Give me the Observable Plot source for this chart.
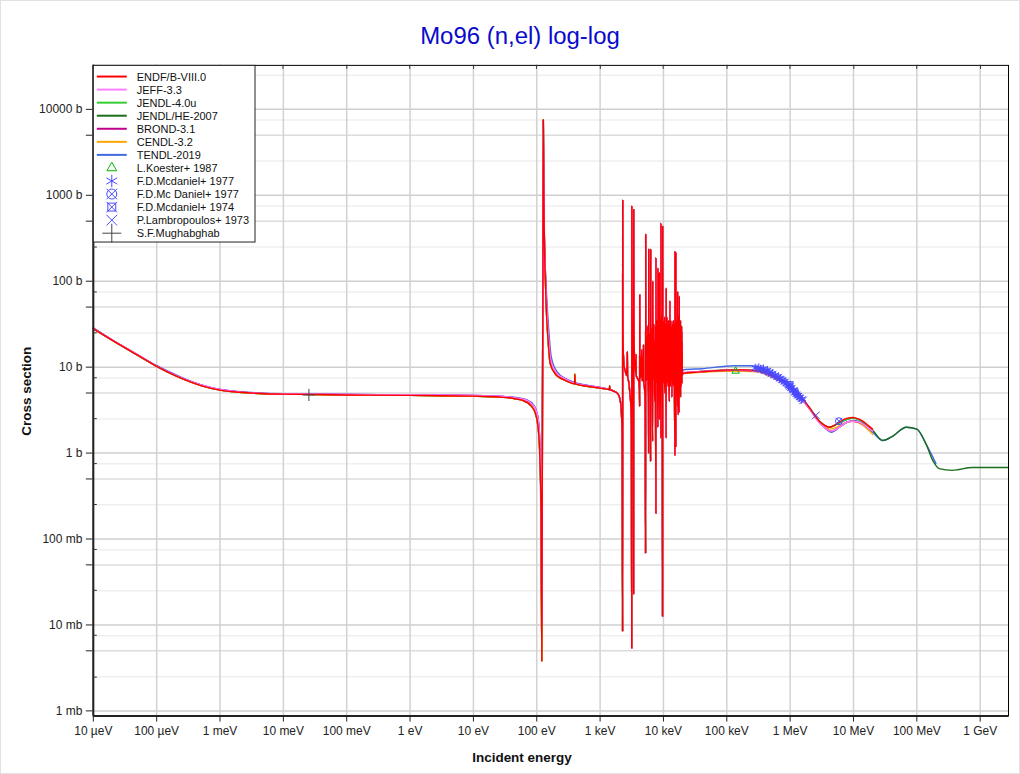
<!DOCTYPE html>
<html>
<head>
<meta charset="utf-8">
<script src="https://cdn.jsdelivr.net/npm/d3@7"></script>
<script src="https://cdn.jsdelivr.net/npm/@observablehq/plot@0.6"></script>
<style>
  html, body { margin: 0; padding: 0; background: #fff; }
  #wrap { position: relative; width: 1020px; height: 774px; box-sizing: border-box; border: 1px solid #e2e2e2; overflow: hidden; }
  #wrap svg { position: absolute; left: 0; top: 0; }
</style>
</head>
<body>
<div id="wrap"></div>
<script>
// ---------------- data (energy in eV, cross section in barns) ----------------
const xTickVals = [1e-5,1e-4,1e-3,1e-2,1e-1,1,10,100,1e3,1e4,1e5,1e6,1e7,1e8,1e9];
const xTickLabels = ["10 µeV","100 µeV","1 meV","10 meV","100 meV","1 eV","10 eV","100 eV","1 keV","10 keV","100 keV","1 MeV","10 MeV","100 MeV","1 GeV"];
const yTickVals = [1e4,5e3,1e3,500,100,50,10,5,1,0.5,0.1,0.05,0.01,0.005,0.001];
const yTickLabels = ["10000 b","5000 b","1000 b","500 b","100 b","50 b","10 b","5 b","1 b","500 mb","100 mb","50 mb","10 mb","5 mb","1 mb"];
const gridDecadeY = [0.001,0.01,0.1,1,10,100,1000,10000];
const gridFiveY = [0.005,0.05,0.5,5,50,500,5000];
const gridMinorY = [0.0025,0.0075,0.025,0.075,0.25,0.75,2.5,7.5,25,75,250,750,2500,7500,25000];

// ENDF/B-VIII.0 : low energy + first s-wave resonance
const endfLow = [[1e-5,28],[2e-5,20.5],[5e-5,13.8],[1e-4,10.2],[2e-4,7.9],[5e-4,6.1],[1e-3,5.4],[2e-3,5.1],[5e-3,4.9],[0.01,4.85],[0.1,4.75],[1,4.7],[10,4.6],[30,4.45],[60,4.1],[80,3.6],[95,2.9],[105,2.0],[112,0.9],[117,0.2],[120,0.0038],[123,3],[125,80],[127,7600],[129,1200],[132,300],[137,100],[141,50],[150,22],[163,11],[200,8.2],[260,7.2],[340,6.6],[395,6.4],[400,8.3],[405,6.4],[620,6.0],[1000,5.7],[1400,5.5],[1415,6.1],[1430,5.5]];
// ENDF/B-VIII.0 : resolved resonance region 1.5 - 20 keV
const endfRes = [[1500,5.4],[1700,5.2],[1900,4.9],[2050,4.3],[2150,3.3],[2230,1.6],[2265,0.0084],[2275,870],[2295,40],[2330,14],[2400,10],[2500,9],[2600,8],[2670,12],[2690,15],[2710,8],[2850,6.5],[2950,5],[3050,3.7],[3120,2.2],[3155,0.0054],[3165,740],[3190,60],[3250,16],[3330,3],[3375,0.023],[3385,680],[3420,40],[3500,12],[3650,8.5],[3700,14],[3720,8],[3850,7.5],[4050,7],[4180,5.5],[4210,3.5],[4220,69],[4250,9],[4350,8],[4370,13],[4400,7.5],[4550,16],[4580,7],[4700,7],[4850,18],[4880,6.5],[5000,6],[5150,3],[5225,0.068],[5240,350],[5270,20],[5350,10],[5420,20],[5450,7],[5500,9],[5560,30],[5600,8],[5680,18],[5700,6.5],[5800,4.5],[5840,1.0],[5855,235],[5880,15],[5950,9],[6000,25],[6050,8],[6120,18],[6150,6.5],[6200,5],[6270,0.8],[6285,235],[6310,12],[6380,22],[6400,7],[6450,9],[6550,28],[6600,8],[6740,1.38],[6760,100],[6790,10],[6880,24],[6900,7],[7000,32],[7050,8],[7150,20],[7180,6.5],[7300,4],[7450,30],[7480,7],[7600,0.2],[7625,185],[7660,12],[7750,24],[7780,6.5],[7900,35],[7950,8],[8050,20],[8070,6.5],[8150,2],[8190,142],[8230,9],[8300,30],[8320,7],[8400,26],[8450,8],[8500,18],[8520,6.5],[8580,2.5],[8600,125],[8640,9],[8750,32],[8780,7],[8900,24],[8930,6.5],[9000,36],[9030,7],[9100,1.5],[9140,470],[9180,15],[9250,26],[9280,6.5],[9400,40],[9450,8],[9550,24],[9580,6],[9680,0.0126],[9710,435],[9750,20],[9800,30],[9830,7],[9900,9],[10000,35],[10030,6.5],[10150,24],[10180,7],[10300,30],[10350,7.5],[10450,38],[10480,6],[10600,5],[10750,26],[10780,7],[10900,32],[10930,6.5],[11040,1.5],[11070,83],[11110,9],[11250,30],[11280,6.5],[11400,38],[11430,7],[11600,26],[11650,7],[11800,32],[11830,6],[12000,35],[12050,7.5],[12200,30],[12230,6.5],[12400,4],[12650,59],[12700,8],[12850,26],[12880,6],[13050,35],[13080,7],[13300,24],[13350,7],[13550,30],[13580,4.5],[13750,26],[13780,7],[13900,32],[13950,7.5],[14100,24],[14130,6.5],[14300,35],[14330,6],[14500,26],[14550,7],[14700,32],[14730,6.5],[14900,24],[14930,7],[15150,0.95],[15200,220],[15250,10],[15400,30],[15430,6.5],[15650,1.2],[15700,215],[15750,10],[15900,32],[15930,6.5],[16200,30],[16250,7],[16400,35],[16430,6],[16650,3.5],[16700,76],[16750,8],[16900,30],[16930,6.5],[17100,2.8],[17300,40],[17350,7.5],[17500,32],[17530,6],[17750,3],[17800,67],[17850,8],[18050,30],[18080,6.5],[18300,32],[18350,7],[18550,35],[18580,4.5],[18800,24],[18850,7],[19050,30],[19080,6],[19300,30],[19350,7.5],[19550,26],[19580,6.5],[19800,20],[19850,8]];
// ENDF/B-VIII.0 : fast region
const endfHigh = [[20300,8.5],[37600,8.8],[126000,9.3],[200000,9.3],[293000,9.1],[420000,8.5],[605000,7.5],[1e6,6.0],[1.41e6,4.8],[2e6,3.4],[2.9e6,2.35],[3.5e6,2.1],[4.2e6,2.0],[5e6,2.1],[6e6,2.3],[8e6,2.55],[9.8e6,2.6],[1.2e7,2.5],[1.4e7,2.35],[1.7e7,2.1],[2e7,1.9]];

const jeffLow = [[1e-5,28.3],[2e-5,20.7],[5e-5,14],[1e-4,10.3],[2e-4,8],[5e-4,6.2],[1e-3,5.5],[2e-3,5.15],[5e-3,4.95],[0.01,4.9],[0.1,4.8],[1,4.78],[10,4.7],[30,4.55],[60,4.25],[80,3.85],[95,3.3],[105,2.5],[112,1.3],[117,0.3],[120,0.01],[123,4],[125,70],[127,7400],[129,1300],[132,330],[138,110],[143,55],[153,23],[167,12],[205,8.6],[265,7.5],[340,6.8],[620,6.1],[1000,5.8],[1400,5.5]];
const jeffHigh = [[20300,8.6],[40000,8.9],[130000,9.3],[300000,9.0],[600000,7.4],[1e6,5.9],[2e6,3.3],[3e6,2.2],[4.5e6,1.8],[6e6,2.0],[8e6,2.3],[9.5e6,2.35],[1.2e7,2.3],[1.6e7,2.05],[2e7,1.8]];

const tendlLow = [[1e-5,28.6],[1e-4,10.4],[1e-3,5.5],[0.01,4.9],[1,4.75],[10,4.7],[40,4.5],[70,4.15],[90,3.6],[105,2.6],[113,1.0],[118,0.05],[121,0.01],[124,50],[126,7500],[129,1000],[133,260],[140,95],[150,38],[170,13],[210,8.8],[300,7.2],[600,6.2],[1000,5.8],[1400,5.5]];
const tendlHigh = [[20300,9.3],[40000,9.6],[130000,10.4],[250000,10.4],[300000,10.0],[450000,8.8],[600000,7.6],[1e6,6.0],[1.4e6,4.8],[2e6,3.4],[3e6,2.25],[4.5e6,1.75],[6e6,2.0],[8e6,2.3],[1e7,2.4],[1.4e7,2.2],[2e7,1.75],[2.9e7,1.40],[4.2e7,1.58],[6.8e7,2.0],[1e8,1.9],[1.4e8,1.27],[2e8,0.76]];

const brondHigh = [[20300,8.6],[130000,9.2],[300000,9.0],[600000,7.4],[1e6,5.9],[2e6,3.3],[3e6,2.2],[4.5e6,1.8],[6e6,2.0],[8e6,2.3],[9.5e6,2.35],[1.2e7,2.3],[1.6e7,2.05],[2e7,1.8]];
const cendlHigh = [[20300,8.4],[130000,9.0],[300000,8.8],[600000,7.3],[1e6,5.9],[2e6,3.3],[3e6,2.25],[4.2e6,1.9],[5.5e6,2.0],[7e6,2.2],[9.5e6,2.35],[1.2e7,2.25],[1.6e7,1.95],[2e7,1.65]];
const jendl4High = [[20300,8.5],[40000,8.8],[130000,9.3],[300000,9.1],[600000,7.5],[1e6,6.0],[2e6,3.4],[3e6,2.3],[4.2e6,2.0],[6e6,2.25],[9.8e6,2.55],[1.4e7,2.3],[2e7,1.85]];
const jendlHeHigh = [[20300,8.5],[130000,9.3],[300000,9.1],[600000,7.5],[1e6,6.0],[2e6,3.4],[3e6,2.3],[4.2e6,2.0],[6e6,2.25],[9.8e6,2.55],[1.4e7,2.3],[2e7,1.85],[2.9e7,1.40],[4.2e7,1.58],[6.8e7,2.0],[1e8,1.9],[1.4e8,1.27],[1.8e8,0.81],[2.25e8,0.66],[3.63e8,0.63],[7.55e8,0.68],[1.5e9,0.68],[2.8e9,0.68]];

// experimental points
const koester1987 = [[138000,9.0]];
const mcdaniel1977 = [[2.8e5,9.8],[3.0e5,9.6],[3.2e5,9.9],[3.4e5,9.5],[3.6e5,9.3],[3.8e5,9.6],[4.0e5,9.1],[4.2e5,8.9],[4.4e5,9.2],[4.6e5,8.6],[4.8e5,8.8],[5.0e5,8.3],[5.3e5,8.5],[5.6e5,8.0],[5.9e5,7.9],[6.2e5,7.6],[6.5e5,7.8],[6.8e5,7.3],[7.1e5,7.4],[7.4e5,7.0],[7.7e5,7.1],[8.0e5,6.7],[8.3e5,6.9],[8.6e5,6.4],[8.9e5,6.5],[9.2e5,6.2],[9.5e5,6.0],[9.8e5,5.8],[1.0e6,6.1],[1.03e6,5.6],[1.06e6,5.8],[1.09e6,5.4],[1.12e6,5.3],[1.15e6,5.5],[1.18e6,5.0],[1.21e6,5.1],[1.24e6,4.8],[1.27e6,4.9],[1.3e6,4.6],[1.35e6,4.7],[1.4e6,4.4],[1.45e6,4.5],[1.5e6,4.2],[1.55e6,4.3]];
const mcdanielCirc1977 = [[5.9e6,2.35]];
const mcdaniel1974 = [[1.0e6,6.3],[1.2e6,5.2]];
const lambropoulos1973 = [[2.55e6,2.75],[1.6e6,4.1]];
const mughabghab = [[0.0253,4.75]];

const colors = {
  endf: "#ff0000", jeff: "#ff80ff", jendl4: "#33cc33", jendlhe: "#1b6e1b",
  brond: "#c0008c", cendl: "#ffa500", tendl: "#4169e1",
  koester: "#00b400", mcd: "#4848ff", mugh: "#444444"
};

const series = [
  {name: "TENDL-2019", color: colors.tendl, data: [...tendlLow, ...endfRes, ...tendlHigh]},
  {name: "JENDL/HE-2007", color: colors.jendlhe, data: [...endfLow, ...endfRes, ...jendlHeHigh]},
  {name: "JENDL-4.0u", color: colors.jendl4, data: [...endfLow, ...endfRes, ...jendl4High]},
  {name: "CENDL-3.2", color: colors.cendl, data: [...endfLow, ...endfRes, ...cendlHigh]},
  {name: "BROND-3.1", color: colors.brond, data: [...jeffLow, ...endfRes, ...brondHigh]},
  {name: "JEFF-3.3", color: colors.jeff, data: [...jeffLow, ...endfRes, ...jeffHigh]},
  {name: "ENDF/B-VIII.0", color: colors.endf, data: [...endfLow, ...endfRes, ...endfHigh]}
];

const xLabel = new Map(xTickVals.map((v, i) => [v, xTickLabels[i]]));
const yLabel = new Map(yTickVals.map((v, i) => [v, yTickLabels[i]]));
const xDomain = [1e-5, 2.8e9];
const yDomain = [0.00087, 32500];
const X = d => d[0], Y = d => d[1];

const chart = Plot.plot({
  width: 1020, height: 774,
  marginLeft: 92, marginRight: 11, marginTop: 64, marginBottom: 58,
  style: {fontFamily: "'Liberation Sans', Arial, sans-serif", fontSize: "12px", color: "#222", background: "transparent"},
  x: {type: "log", domain: xDomain, ticks: xTickVals, tickFormat: d => xLabel.get(d), label: null, tickSize: 6, tickPadding: 4},
  y: {type: "log", domain: yDomain, ticks: yTickVals, tickFormat: d => yLabel.get(d), label: null, tickSize: 7, tickPadding: 4},
  marks: [
    Plot.ruleY(gridMinorY, {stroke: "#efefef", strokeWidth: 1.5}),
    Plot.ruleY(gridFiveY, {stroke: "#dcdcdc", strokeWidth: 1.5}),
    Plot.ruleY(gridDecadeY, {stroke: "#cfcfcf", strokeWidth: 1.5}),
    Plot.ruleX(xTickVals, {stroke: "#d2d2d2", strokeWidth: 1.5}),
    ...series.map(s => Plot.line(s.data, {x: X, y: Y, stroke: s.color, strokeWidth: 1.4, curve: "monotone-x"})),
    Plot.dot(koester1987, {x: X, y: Y, symbol: "triangle2", r: 3.5, stroke: colors.koester, strokeWidth: 1}),
    Plot.dot(mcdaniel1977, {x: X, y: Y, symbol: "asterisk", r: 4, stroke: colors.mcd, strokeWidth: 1}),
    Plot.dot(mcdanielCirc1977, {x: X, y: Y, symbol: "circle", r: 3.5, stroke: colors.mcd, strokeWidth: 1}),
    Plot.dot(mcdanielCirc1977, {x: X, y: Y, symbol: "times", r: 3, stroke: colors.mcd, strokeWidth: 1}),
    Plot.dot(mcdaniel1974, {x: X, y: Y, symbol: "square2", r: 3.5, stroke: colors.mcd, strokeWidth: 1}),
    Plot.dot(mcdaniel1974, {x: X, y: Y, symbol: "times", r: 3, stroke: colors.mcd, strokeWidth: 1}),
    Plot.dot(lambropoulos1973, {x: X, y: Y, symbol: "times", r: 3.5, stroke: colors.mcd, strokeWidth: 1}),
    Plot.dot(mughabghab, {x: X, y: Y, symbol: "plus", r: 4, stroke: colors.mugh, strokeWidth: 1}),
    Plot.frame({stroke: "#000", strokeWidth: 1}),
    Plot.ruleX([xDomain[0]], {stroke: "#222", strokeWidth: 2}),
    Plot.ruleY([yDomain[0]], {stroke: "#222", strokeWidth: 2})
  ]
});

document.getElementById("wrap").appendChild(chart);

// ---------------- titles, inner ticks & legend ----------------
const svg = d3.select(chart);
const font = "'Liberation Sans', Arial, sans-serif";
const sx = chart.scale("x"), sy = chart.scale("y");

const inner = svg.append("g").attr("stroke", "#333").attr("stroke-width", 1);
xTickVals.forEach(v => {
  const px = Math.round(sx.apply(v)) + 0.5;
  inner.append("line").attr("x1", px).attr("x2", px).attr("y1", 64).attr("y2", 68);
});
gridMinorY.forEach(v => {
  const py = Math.round(sy.apply(v)) + 0.5;
  if (py > 65 && py < 715) inner.append("line").attr("x1", 92).attr("x2", 96).attr("y1", py).attr("y2", py);
});

svg.append("text").attr("x", 520).attr("y", 43).attr("text-anchor", "middle")
  .attr("font-family", font).attr("font-size", 24).attr("fill", "#0a0acc").text("Mo96 (n,el) log-log");
svg.append("text").attr("x", 522).attr("y", 763).attr("text-anchor", "middle")
  .attr("font-family", font).attr("font-size", 13.5).attr("font-weight", "bold").attr("fill", "#111").text("Incident energy");
svg.append("text").attr("transform", "translate(30,391) rotate(-90)").attr("text-anchor", "middle")
  .attr("font-family", font).attr("font-size", 13.5).attr("font-weight", "bold").attr("fill", "#111").text("Cross section");

const legendItems = [
  {label: "ENDF/B-VIII.0", color: colors.endf},
  {label: "JEFF-3.3", color: colors.jeff},
  {label: "JENDL-4.0u", color: colors.jendl4},
  {label: "JENDL/HE-2007", color: colors.jendlhe},
  {label: "BROND-3.1", color: colors.brond},
  {label: "CENDL-3.2", color: colors.cendl},
  {label: "TENDL-2019", color: colors.tendl},
  {label: "L.Koester+ 1987", color: colors.koester, syms: ["triangle"]},
  {label: "F.D.Mcdaniel+ 1977", color: colors.mcd, syms: ["asterisk"]},
  {label: "F.D.Mc Daniel+ 1977", color: colors.mcd, syms: ["circle", "times"]},
  {label: "F.D.Mcdaniel+ 1974", color: colors.mcd, syms: ["square", "times"]},
  {label: "P.Lambropoulos+ 1973", color: colors.mcd, syms: ["times"]},
  {label: "S.F.Mughabghab", color: colors.mugh, syms: ["plus"]}
];
const symPaths = {
  triangle: d3.symbol(d3.symbolTriangle2, 70)(),
  asterisk: d3.symbol(d3.symbolAsterisk, 110)(),
  square: d3.symbol(d3.symbolSquare2, 80)(),
  times: d3.symbol(d3.symbolTimes, 75)(),
  plus: d3.symbol(d3.symbolPlus, 120)()
};
const lg = svg.append("g").attr("font-family", font).attr("font-size", 11).attr("text-anchor", "start");
lg.append("rect").attr("x", 92.5).attr("y", 64.5).attr("width", 162).attr("height", 177)
  .attr("fill", "#fff").attr("stroke", "#222").attr("stroke-width", 1);
legendItems.forEach((it, i) => {
  const yy = 75.7 + 13.08 * i;
  if (!it.syms) {
    lg.append("line").attr("x1", 96).attr("x2", 126).attr("y1", yy).attr("y2", yy)
      .attr("stroke", it.color).attr("stroke-width", 2);
  } else {
    it.syms.forEach(s => {
      if (s === "circle") {
        lg.append("circle").attr("cx", 111).attr("cy", yy).attr("r", 5)
          .attr("fill", "none").attr("stroke", it.color).attr("stroke-width", 1);
      } else {
        lg.append("path").attr("d", symPaths[s])
          .attr("transform", `translate(111,${yy})`).attr("fill", "none")
          .attr("stroke", it.color).attr("stroke-width", 1);
      }
    });
  }
  lg.append("text").attr("x", 136).attr("y", yy + 4).attr("text-anchor", "start").attr("fill", "#111").text(it.label);
});
</script>
</body>
</html>
